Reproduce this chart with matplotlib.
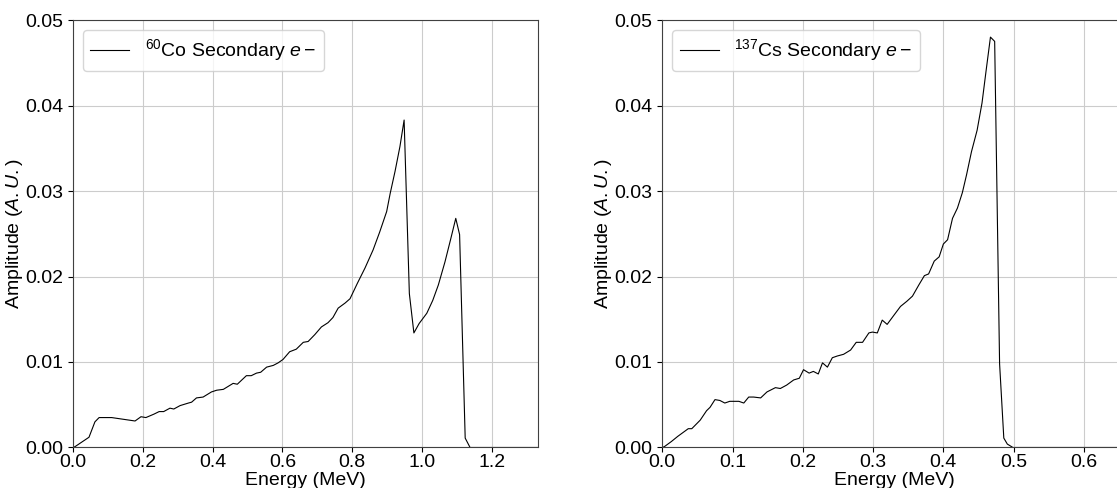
import matplotlib
matplotlib.use('Agg')
import matplotlib.pyplot as plt

plt.rcParams['font.family'] = ['Liberation Sans', 'DejaVu Sans']
plt.rcParams['mathtext.fontset'] = 'custom'
plt.rcParams['mathtext.rm'] = 'Liberation Sans'
plt.rcParams['mathtext.it'] = 'Liberation Sans:italic'
plt.rcParams['font.size'] = 14
plt.rcParams['xtick.major.pad'] = 1.0
plt.rcParams['axes.edgecolor'] = '0.25'
plt.rcParams['grid.color'] = '0.8'

# 60Co secondary electron spectrum
co_E = [0.0, 0.006, 0.046, 0.063, 0.075, 0.111, 0.178, 0.195, 0.209, 0.232,
        0.247, 0.260, 0.278, 0.289, 0.307, 0.331, 0.340, 0.354, 0.373, 0.397,
        0.412, 0.431, 0.459, 0.471, 0.497, 0.511, 0.526, 0.538, 0.555, 0.574,
        0.588, 0.602, 0.621, 0.640, 0.660, 0.674, 0.693, 0.712, 0.731, 0.745,
        0.760, 0.780, 0.794, 0.815, 0.837, 0.860, 0.879, 0.899, 0.909, 0.923,
        0.937, 0.949, 0.964, 0.977, 0.992, 1.014, 1.031, 1.047, 1.066, 1.082,
        1.097, 1.108, 1.124, 1.138, 1.200, 1.3325]
co_A = [0.0, 0.0001, 0.0012, 0.0030, 0.0035, 0.0035, 0.0031, 0.0036, 0.0035, 0.0039,
        0.0042, 0.0042, 0.0046, 0.0045, 0.0049, 0.0052, 0.0053, 0.0058, 0.0059, 0.0065,
        0.0067, 0.0068, 0.0075, 0.0074, 0.0084, 0.0084, 0.0087, 0.0088, 0.0094, 0.0096,
        0.0099, 0.0103, 0.0112, 0.0115, 0.0123, 0.0124, 0.0132, 0.0141, 0.0146, 0.0152,
        0.0163, 0.0169, 0.0174, 0.0192, 0.0210, 0.0231, 0.0252, 0.0276, 0.0297, 0.0323,
        0.0352, 0.0383, 0.0180, 0.0134, 0.0145, 0.0157, 0.0172, 0.0190, 0.0217, 0.0243,
        0.0268, 0.0249, 0.0011, 0.0, 0.0, 0.0]

# 137Cs secondary electron spectrum
cs_E = [0.0, 0.003, 0.013, 0.022, 0.037, 0.042, 0.054, 0.063, 0.068, 0.075,
        0.082, 0.089, 0.096, 0.109, 0.116, 0.123, 0.130, 0.140, 0.149, 0.161,
        0.168, 0.177, 0.187, 0.195, 0.201, 0.209, 0.215, 0.222, 0.228, 0.235,
        0.242, 0.249, 0.258, 0.268, 0.276, 0.285, 0.294, 0.299, 0.306, 0.313,
        0.320, 0.329, 0.339, 0.348, 0.356, 0.365, 0.373, 0.379, 0.387, 0.394,
        0.400, 0.406, 0.413, 0.420, 0.427, 0.433, 0.440, 0.448, 0.455, 0.461,
        0.467, 0.473, 0.480, 0.486, 0.491, 0.499, 0.550, 0.6617]
cs_A = [0.0, 0.0001, 0.0007, 0.0013, 0.0022, 0.0022, 0.0032, 0.0043, 0.0047, 0.0056,
        0.0055, 0.0052, 0.0054, 0.0054, 0.0052, 0.0059, 0.0059, 0.0058, 0.0065, 0.0070,
        0.0069, 0.0073, 0.0079, 0.0081, 0.0091, 0.0087, 0.0089, 0.0086, 0.0099, 0.0094,
        0.0105, 0.0107, 0.0109, 0.0114, 0.0123, 0.0123, 0.0134, 0.0135, 0.0134, 0.0149,
        0.0144, 0.0154, 0.0165, 0.0171, 0.0177, 0.0190, 0.0201, 0.0203, 0.0218, 0.0223,
        0.0238, 0.0243, 0.0268, 0.0280, 0.0298, 0.0319, 0.0346, 0.0371, 0.0403, 0.0442,
        0.0480, 0.0475, 0.0098, 0.0011, 0.0004, 0.0, 0.0, 0.0]

fig = plt.figure(figsize=(11.17, 4.88), dpi=100)
ax1 = fig.add_axes([0.0653, 0.083, 0.4163, 0.876])
ax2 = fig.add_axes([0.5929, 0.083, 0.4163, 0.876])

ax1.plot(co_E, co_A, color='k', linewidth=0.8, label=r'$^{60}$Co Secondary $e-$')
ax1.set_xlim(0, 1.3325)
ax1.set_ylim(0, 0.05)
ax1.set_xlabel('Energy (MeV)', labelpad=1)
ax1.set_ylabel(r'Amplitude ($A.U.$)', labelpad=0)
ax1.grid(True)
ax1.legend(loc='upper left')

ax2.plot(cs_E, cs_A, color='k', linewidth=0.8, label=r'$^{137}$Cs Secondary $e-$')
ax2.set_xlim(0, 0.6617)
ax2.set_ylim(0, 0.05)
ax2.set_xlabel('Energy (MeV)', labelpad=1)
ax2.set_ylabel(r'Amplitude ($A.U.$)', labelpad=0)
ax2.grid(True)
ax2.legend(loc='upper left')

fig.savefig('out.png', dpi=100)
